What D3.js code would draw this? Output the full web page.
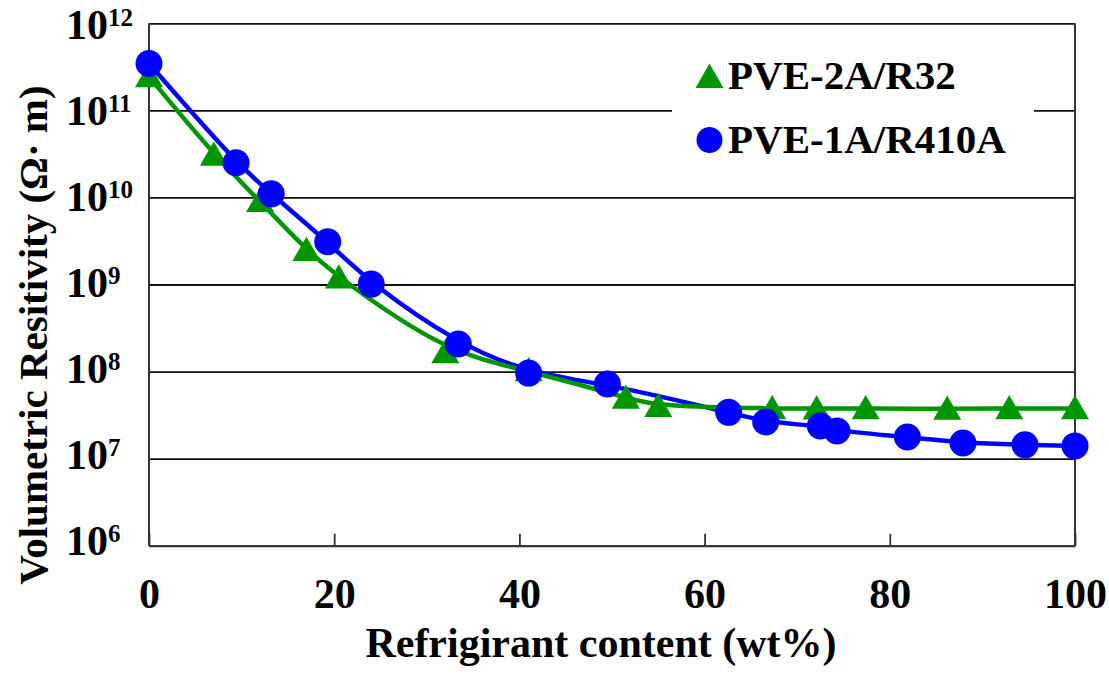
<!DOCTYPE html>
<html>
<head>
<meta charset="utf-8">
<script src="https://cdn.jsdelivr.net/npm/d3@7"></script>
<style>
  html, body { margin: 0; padding: 0; background: #fff; }
  svg { display: block; }
  svg text { font-family: "Liberation Serif", "Times New Roman", serif; font-weight: bold; fill: #000; }
</style>
</head>
<body>
<svg id="chart" width="1109" height="675"></svg>
<script>
// Refrigerant content (wt%) and volumetric resistivity (Ω·m)
const r32Content = [0, 7, 12, 17, 20.5, 32, 41, 51.5, 55, 67.3, 72.1, 77.4, 86.2, 92.9, 100];
const r32Resistivity = [2.45e11, 3.08e10, 9.05e9, 2.49e9, 1.2e9, 1.66e8, 1.03e8, 5.0e7, 4.0e7, 3.77e7, 3.75e7, 3.77e7, 3.72e7, 3.77e7, 3.77e7];

const r410aContent = [0, 9.4, 13.2, 19.3, 24.0, 33.4, 41.0, 49.5, 62.6, 66.6, 72.5, 74.3, 81.9, 87.9, 94.6, 100];
const r410aResistivity = [3.45e11, 2.5e10, 1.1e10, 3.1e9, 1.01e9, 2.07e8, 9.6e7, 7.2e7, 3.4e7, 2.64e7, 2.37e7, 2.08e7, 1.77e7, 1.51e7, 1.44e7, 1.4e7];

const xTicks = [0, 20, 40, 60, 80, 100];
const yTicks = [1e6, 1e7, 1e8, 1e9, 1e10, 1e11, 1e12];

const seriesNames = ["PVE-2A/R32", "PVE-1A/R410A"];
const xTitle = "Refrigirant content (wt%)";
const yTitle = "Volumetric Resitivity (Ω· m)";

const GREEN = "#009600";
const BLUE = "#0000ff";
const FONT = '"Liberation Serif", "Times New Roman", serif';

const svg = d3.select("#chart");
const plot = { left: 149, right: 1075, top: 23.3, bottom: 545.7 };

const x = d3.scaleLinear().domain([0, 100]).range([plot.left, plot.right]);
const y = d3.scaleLog().domain([1e6, 1e12]).range([plot.bottom, plot.top]);
// baseline positions for the power-of-ten labels
const yLabel = d3.scaleLog().domain([1e6, 1e12]).range([555, 39]);

// horizontal grid lines at each decade
svg.append("g")
  .attr("transform", `translate(${plot.left},0)`)
  .call(d3.axisLeft(y).tickValues(yTicks).tickSize(-(plot.right - plot.left)).tickFormat(""))
  .call(g => g.select(".domain").remove())
  .call(g => g.selectAll(".tick line").attr("stroke", "#111").attr("stroke-width", 1.8));

// legend backdrop interrupts the grid line behind it
svg.append("rect")
  .attr("x", 672).attr("y", 50).attr("width", 362).attr("height", 120)
  .attr("fill", "#fff");

// x axis with inward ticks
const xAxis = svg.append("g")
  .attr("transform", `translate(0,${plot.bottom})`)
  .call(d3.axisBottom(x).tickValues(xTicks).tickSizeInner(-12).tickSizeOuter(0).tickPadding(32.5))
  .attr("font-family", null).attr("font-size", null);
xAxis.select(".domain").attr("stroke", "#333").attr("stroke-width", 2);
xAxis.selectAll(".tick line").attr("stroke", "#333").attr("stroke-width", 1.8);
xAxis.selectAll(".tick text")
  .style("font-family", FONT)
  .style("font-weight", "bold")
  .style("font-size", "42px")
  .attr("fill", "#000");

// left and right frame edges
svg.append("line")
  .attr("x1", plot.left).attr("x2", plot.left).attr("y1", plot.top).attr("y2", plot.bottom)
  .attr("stroke", "#333").attr("stroke-width", 2);
svg.append("line")
  .attr("x1", plot.right).attr("x2", plot.right).attr("y1", plot.top).attr("y2", plot.bottom)
  .attr("stroke", "#333").attr("stroke-width", 2);

// y tick labels as 10 with superscript exponent
const yl = svg.append("g").selectAll("text").data(yTicks).join("text")
  .attr("x", 66)
  .attr("y", d => yLabel(d))
  .style("font-family", FONT)
  .style("font-size", "42px");
yl.append("tspan").text("10");
yl.append("tspan")
  .attr("dy", -13)
  .style("font-size", "25px")
  .text(d => Math.round(Math.log10(d)));

// axis titles
svg.append("text")
  .attr("x", 601).attr("y", 657)
  .attr("text-anchor", "middle")
  .style("font-family", FONT)
  .style("font-size", "42px")
  .text(xTitle);

svg.append("text")
  .attr("transform", "translate(47,335) rotate(-90)")
  .attr("text-anchor", "middle")
  .style("font-family", FONT)
  .style("font-size", "41px")
  .text(yTitle);

// series
const r32 = r32Content.map((c, i) => [c, r32Resistivity[i]]);
const r410a = r410aContent.map((c, i) => [c, r410aResistivity[i]]);

const line = d3.line().x(d => x(d[0])).y(d => y(d[1])).curve(d3.curveBasis);

svg.append("path").datum(r410a)
  .attr("d", line).attr("fill", "none").attr("stroke", BLUE).attr("stroke-width", 4.5);
svg.append("path").datum(r32)
  .attr("d", line).attr("fill", "none").attr("stroke", GREEN).attr("stroke-width", 4.5);

const tri = d3.symbol().type(d3.symbolTriangle).size(340);
// shift so the triangle's bounding box is centred on the value
const triShift = 2.8;

svg.append("g").selectAll("path").data(r32).join("path")
  .attr("d", tri)
  .attr("transform", d => `translate(${x(d[0])},${y(d[1]) + triShift})`)
  .attr("fill", GREEN);

svg.append("g").selectAll("circle").data(r410a).join("circle")
  .attr("cx", d => x(d[0])).attr("cy", d => y(d[1])).attr("r", 13.5)
  .attr("fill", BLUE);

// legend
const legend = svg.append("g");
legend.append("path")
  .attr("d", tri)
  .attr("transform", `translate(709.5,${77 + triShift})`)
  .attr("fill", GREEN);
legend.append("circle").attr("cx", 709.5).attr("cy", 140).attr("r", 13).attr("fill", BLUE);
legend.append("text").attr("x", 728).attr("y", 89).style("font-family", FONT).style("font-size", "41px").text(seriesNames[0]);
legend.append("text").attr("x", 728).attr("y", 153).style("font-family", FONT).style("font-size", "41px").text(seriesNames[1]);
</script>
</body>
</html>
